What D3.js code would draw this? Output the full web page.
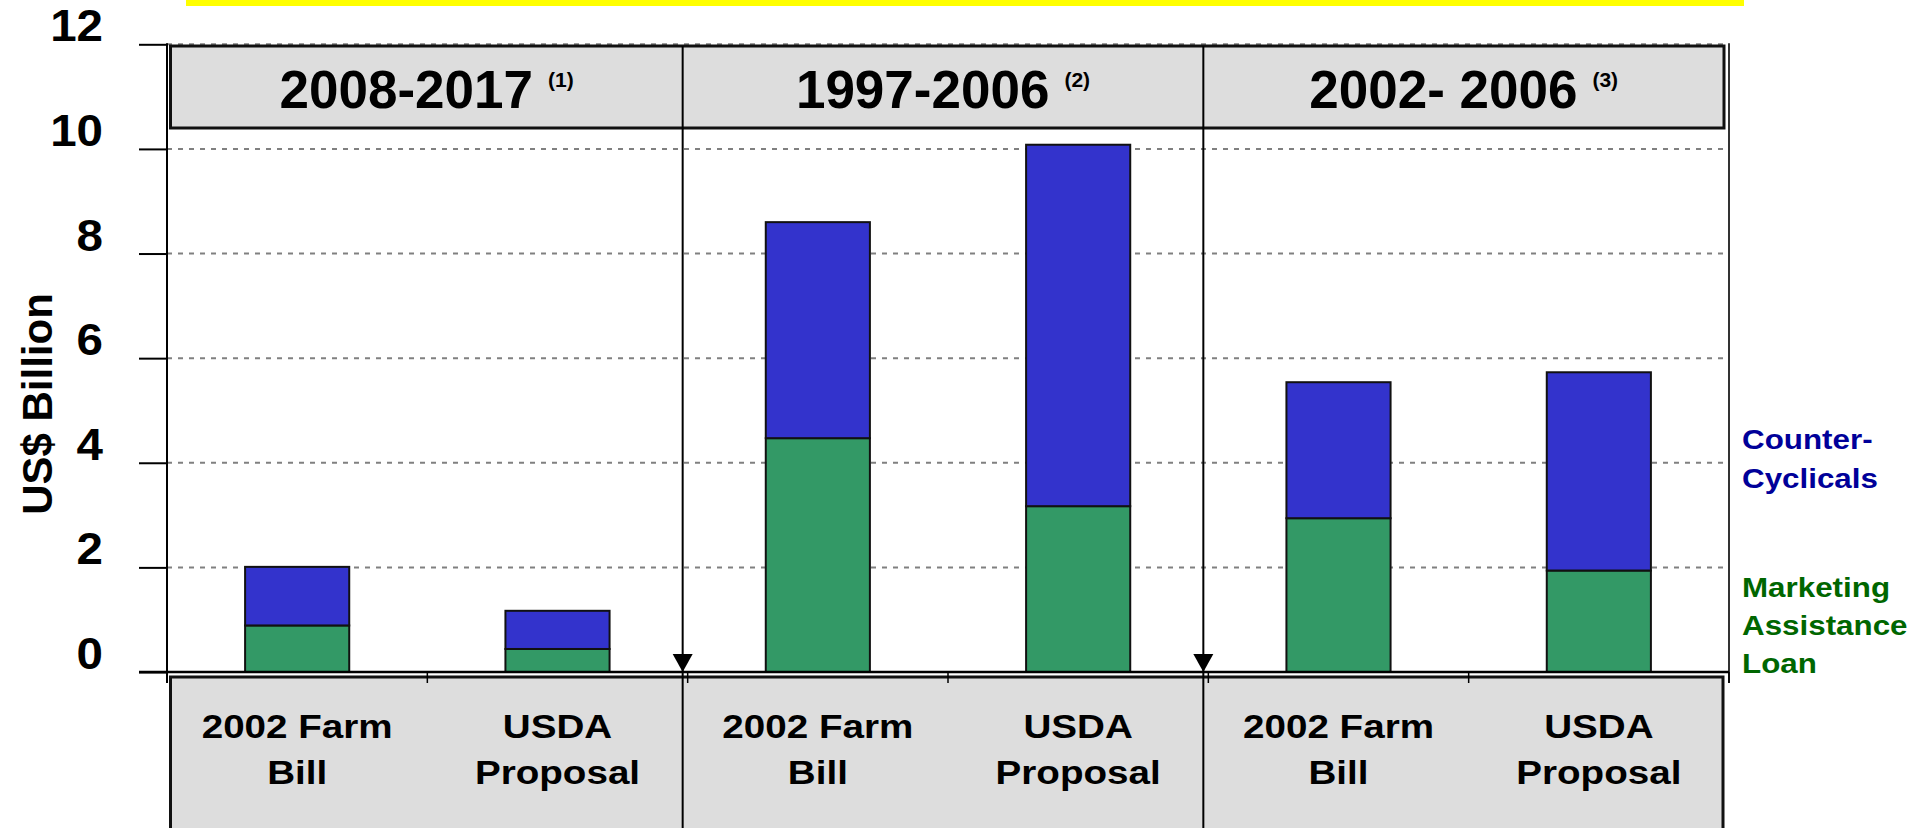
<!DOCTYPE html>
<html>
<head>
<meta charset="utf-8">
<script src="https://cdn.jsdelivr.net/npm/d3@7"></script>
<style>
  html, body { margin: 0; padding: 0; background: #fff; overflow: hidden; }
  svg { display: block; font-family: Arial, "Liberation Sans", sans-serif; font-weight: bold; }
</style>
</head>
<body>
<svg id="chart" width="1911" height="828"></svg>
<script>
// ---- data ----
const categories = ["2002 Farm Bill", "USDA Proposal", "2002 Farm Bill", "USDA Proposal", "2002 Farm Bill", "USDA Proposal"];
const periods = ["2008-2017", "1997-2006", "2002- 2006"];
const periodNotes = ["(1)", "(2)", "(3)"];
const marketingLoan = [0.89, 0.44, 4.47, 3.17, 2.94, 1.94];
const counterCyclicals = [1.12, 0.73, 4.13, 6.91, 2.60, 3.79];
const yTicks = [0, 2, 4, 6, 8, 10, 12];
const seriesKeys = ["marketing", "counter"];
const legendCounter = ["Counter-", "Cyclicals"];
const legendMarketing = ["Marketing", "Assistance", "Loan"];

// ---- layout ----
const svg = d3.select("#chart");
const plotLeft = 167, plotRight = 1729, yZero = 672, yTop = 44.3;
const colors = { marketing: "#339966", counter: "#3333CC" };
const labelColors = { marketing: "#006600", counter: "#000099" };

const keys = categories.map((c, i) => i);
const x = d3.scaleBand().domain(keys).range([plotLeft, plotRight]).paddingInner(0.6).paddingOuter(0.3);
const y = d3.scaleLinear().domain([0, 12]).range([yZero, yTop]);
const step = x.step();
const bandStart = i => x(i) - x.paddingInner() * step / 2;

// yellow strip at top
svg.append("rect").attr("x", 186).attr("y", 0).attr("width", 1558).attr("height", 6).attr("fill", "#FFFF00");

// gridlines
svg.append("g").selectAll("line").data(yTicks.filter(t => t > 0)).join("line")
  .attr("x1", plotLeft).attr("x2", plotRight)
  .attr("y1", d => y(d)).attr("y2", d => y(d))
  .attr("stroke", "#808080").attr("stroke-width", 2).attr("stroke-dasharray", "5,6");

// header box
const boxL = 170.5, boxR = 1724;
svg.append("rect").attr("x", boxL).attr("y", 46).attr("width", boxR - boxL).attr("height", 82)
  .attr("fill", "#DDDDDD").attr("stroke", "#111").attr("stroke-width", 3);

// bottom category box
svg.append("rect").attr("x", boxL).attr("y", 677).attr("width", boxR - boxL - 1).attr("height", 200)
  .attr("fill", "#DDDDDD").attr("stroke", "#111").attr("stroke-width", 3);

// y axis
const yAxis = d3.axisLeft(y).tickValues(yTicks).tickSize(28).tickFormat("");
const yg = svg.append("g").attr("transform", `translate(${plotLeft},0)`).call(yAxis);
yg.select(".domain").remove();
yg.selectAll(".tick line").attr("stroke", "#000").attr("stroke-width", 2);
svg.append("line").attr("x1", plotLeft).attr("x2", plotLeft).attr("y1", yTop - 1).attr("y2", 683)
  .attr("stroke", "#000").attr("stroke-width", 2);
svg.append("line").attr("x1", plotRight).attr("x2", plotRight).attr("y1", yTop - 1).attr("y2", 683)
  .attr("stroke", "#333").attr("stroke-width", 2);

// y tick labels
svg.append("g").selectAll("g").data(yTicks).join("g")
  .attr("transform", d => `translate(103,${y(d) - 3}) scale(1.08,1)`)
  .append("text").attr("text-anchor", "end").attr("font-size", 44).attr("fill", "#000").text(d => d);

// y title
svg.append("text").attr("transform", "translate(52,404) rotate(-90)")
  .attr("text-anchor", "middle").attr("font-size", 42).attr("fill", "#000").text("US$ Billion");

// stacked bars
const rows = keys.map(i => ({ key: i, marketing: marketingLoan[i], counter: counterCyclicals[i] }));
const stacked = d3.stack().keys(seriesKeys)(rows);
svg.append("g").selectAll("g").data(stacked).join("g")
  .attr("fill", d => colors[d.key])
  .selectAll("rect").data(d => d).join("rect")
  .attr("x", d => x(d.data.key)).attr("width", x.bandwidth())
  .attr("y", d => y(d[1])).attr("height", d => y(d[0]) - y(d[1]))
  .attr("stroke", "#111").attr("stroke-width", 2);

// x axis line and category ticks
svg.append("line").attr("x1", 139).attr("x2", plotRight).attr("y1", yZero).attr("y2", yZero)
  .attr("stroke", "#000").attr("stroke-width", 2.5);
const bounds = keys.map(bandStart).concat([plotRight]);
svg.append("g").selectAll("line").data(bounds).join("line")
  .attr("x1", d => d).attr("x2", d => d).attr("y1", yZero).attr("y2", 683)
  .attr("stroke", "#000").attr("stroke-width", 1.5);

// group separators with arrows
const seps = [2, 4].map(i => bandStart(i) - 5);
svg.append("g").selectAll("line").data(seps).join("line")
  .attr("x1", d => d).attr("x2", d => d).attr("y1", 46).attr("y2", 828)
  .attr("stroke", "#000").attr("stroke-width", 2);
svg.append("g").selectAll("path").data(seps).join("path")
  .attr("d", d => `M${d - 10},${yZero - 18} L${d + 10},${yZero - 18} L${d},${yZero} Z`)
  .attr("fill", "#000");

// header labels
const groupCenters = periods.map((p, g) => {
  const l = g === 0 ? boxL : seps[g - 1];
  const r = g === periods.length - 1 ? boxR : seps[g];
  return (l + r) / 2;
});
const ht = svg.append("g").selectAll("text").data(periods).join("text")
  .attr("x", (d, g) => groupCenters[g]).attr("y", 108)
  .attr("text-anchor", "middle").attr("font-size", 53).attr("fill", "#000");
ht.append("tspan").text(d => d);
ht.append("tspan").attr("dx", 15).attr("dy", -21).attr("font-size", 21).text((d, g) => periodNotes[g]);

// category labels
const catG = svg.append("g").selectAll("g").data(keys).join("g")
  .attr("transform", d => `translate(${x(d) + x.bandwidth() / 2},0)`);
catG.each(function (i) {
  const name = categories[i];
  const cut = name.lastIndexOf(" ");
  const lines = [name.slice(0, cut), name.slice(cut + 1)];
  d3.select(this).selectAll("g").data(lines).join("g")
    .attr("transform", (l, k) => `translate(0,${737.7 + k * 46.6}) scale(1.17,1)`)
    .append("text").attr("text-anchor", "middle").attr("font-size", 33).attr("fill", "#000").text(l => l);
});

// legend labels
function legend(lines, startY, color) {
  svg.append("g").selectAll("g").data(lines).join("g")
    .attr("transform", (l, k) => `translate(1742,${startY + k * 38.2}) scale(1.12,1)`)
    .append("text").attr("font-size", 28).attr("fill", color).text(l => l);
}
legend(legendCounter, 449.3, labelColors.counter);
legend(legendMarketing, 596.7, labelColors.marketing);
</script>
</body>
</html>
